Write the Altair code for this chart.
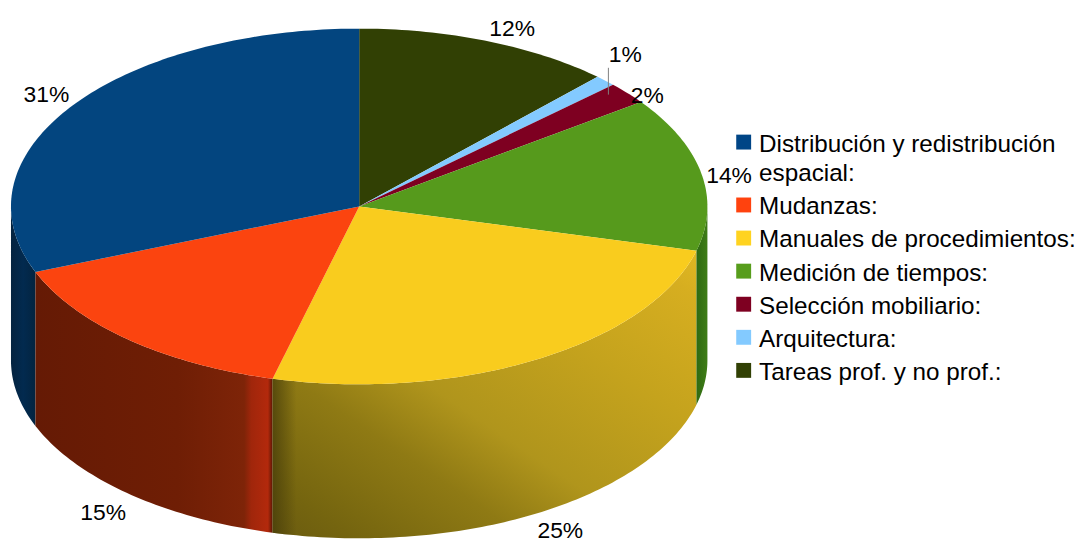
import math
import altair as alt
import pandas as pd

# ---- values (clockwise from 12 o'clock)
categories = ["Tareas prof. y no prof.:", "Arquitectura:", "Selección mobiliario:",
              "Medición de tiempos:", "Manuales de procedimientos:", "Mudanzas:",
              "Distribución y redistribución espacial:"]
shares = [12, 1, 2, 14, 25, 15, 31]
labels = ["12%", "1%", "2%", "14%", "25%", "15%", "31%"]

legend_order = ["Distribución y redistribución espacial:", "Mudanzas:",
                "Manuales de procedimientos:", "Medición de tiempos:",
                "Selección mobiliario:", "Arquitectura:", "Tareas prof. y no prof.:"]
legend_lines = [["Distribución y redistribución", "espacial:"], ["Mudanzas:"],
                ["Manuales de procedimientos:"], ["Medición de tiempos:"],
                ["Selección mobiliario:"], ["Arquitectura:"], ["Tareas prof. y no prof.:"]]
legend_colors = ["#004586", "#ff420e", "#ffd320", "#579d1c", "#7e0021", "#83caff", "#314004"]
top_colors = ["#03457f", "#fb440f", "#f9cc1e", "#569a1c", "#7e0021", "#83caff", "#314004"]

# ---- layout of the tilted pie, in page pixels
CX, CY, RX, RY, DEPTH = 361.5, 206.0, 350.5, 179.0, 155.0
FONT = "Liberation Sans"
PCT_SIZE = 23
LEGEND_SIZE = 24.4
SWATCH_X, TEXT_X = 748.5, 764
FIRST_BASE, WRAP_GAP, ROW_GAP = 150.7, 30.0, 33.3
# label offset from the rim point at each slice's middle angle
nudges = {"12%": (25, -12), "1%": (20, -26), "2%": (20, 3), "14%": (28, 3),
          "25%": (24, 18), "15%": (-26, 19), "31%": (-25, -12)}
# wall shading: colour stops and direction
H = dict(x1=0, y1=0, x2=1, y2=0)
D = dict(x1=0, y1=1, x2=1, y2=0)
walls = {
    "Distribución y redistribución espacial:": (H, [(0, "#04233f"), (0.5, "#022a4f"), (1, "#032440")]),
    "Mudanzas:": (H, [(0, "#651a05"), (0.6, "#6f1e05"), (0.88, "#7e2408"), (0.91, "#a0260b"),
                      (0.98, "#b3290c"), (1, "#5a1605")]),
    "Manuales de procedimientos:": (D, [(0, "#6a5b10"), (0.1, "#75650f"), (0.3, "#8f7a14"),
                                        (0.45, "#b0951c"), (0.7, "#c5a31d"), (0.92, "#d6ae20"),
                                        (1, "#e0b822")]),
    "Medición de tiempos:": (H, [(0, "#2f6a12"), (1, "#3f7d17")]),
}


def rim(deg):
    a = math.radians(deg)
    return CX + RX * math.sin(a), CY - RY * math.cos(a)


top_rows, wall_rows, label_rows = [], [], []
start = 0.0
total = sum(shares)
for name, share, text in zip(categories, shares, labels):
    a0 = start / total * 360
    a1 = (start + share) / total * 360
    steps = max(4, int(a1 - a0))
    arc = [a0 + (a1 - a0) * k / steps for k in range(steps + 1)]
    pts = [(CX, CY)] + [rim(d) for d in arc] + [(CX, CY)]
    for i, (x, y) in enumerate(pts):
        top_rows.append({"name": name, "i": i, "x": x, "y": y})
    # the visible part of the wall lies between 90 and 270 degrees
    w0, w1 = max(a0, 90.0), min(a1, 270.0)
    if w1 > w0:
        n = max(4, int(w1 - w0))
        for k in range(n + 1):
            x, y = rim(w0 + (w1 - w0) * k / n)
            wall_rows.append({"name": name, "x": x, "y": y, "y2": y + DEPTH})
    mid = (a0 + a1) / 2
    x, y = rim(mid)
    if 90 < mid < 270:
        y += DEPTH
    dx, dy = nudges[text]
    label_rows.append({"label": text, "x": x + dx, "y": y + dy})
    start += share

tops = pd.DataFrame(top_rows)
wall_df = pd.DataFrame(wall_rows)
lab_df = pd.DataFrame(label_rows)

# legend rows
swatch_rows, text_rows = [], []
base = FIRST_BASE
for name, lines in zip(legend_order, legend_lines):
    swatch_rows.append({"name": name, "x": SWATCH_X, "y": base - 9.5})
    for j, line in enumerate(lines):
        if j:
            base += WRAP_GAP
        text_rows.append({"text": line, "x": TEXT_X, "y": base})
    base += ROW_GAP
swatches = pd.DataFrame(swatch_rows)
legend_text = pd.DataFrame(text_rows)

x_scale = alt.Scale(domain=[8, 1076], range=[0, 1068], nice=False, zero=False, padding=0)
y_scale = alt.Scale(domain=[8, 534], range=[0, 526], nice=False, zero=False, padding=0)
X = alt.X("x:Q", scale=x_scale, axis=None)
Y = alt.Y("y:Q", scale=y_scale, axis=None)

layers = []
for name, (direction, stops) in walls.items():
    grad = alt.LinearGradient(
        gradient="linear", **direction,
        stops=[alt.GradientStop(offset=o, color=c) for o, c in stops],
    )
    layers.append(
        alt.Chart(wall_df[wall_df.name == name])
        .mark_area(fill=grad, line=False, interpolate="linear")
        .encode(x=X, y=Y, y2="y2:Q")
    )

# soft dark seam on the left of the yellow wall
seam = wall_df[(wall_df.name == "Manuales de procedimientos:") & (wall_df.x < 300)]
layers.append(
    alt.Chart(seam)
    .mark_area(
        fill=alt.LinearGradient(
            gradient="linear", **H,
            stops=[alt.GradientStop(offset=0, color="rgba(70,60,10,0.75)"),
                   alt.GradientStop(offset=1, color="rgba(70,60,10,0)")],
        ),
        line=False,
    )
    .encode(x=X, y=Y, y2="y2:Q")
)

layers.append(
    alt.Chart(tops)
    .mark_line(strokeWidth=0, interpolate="linear")
    .encode(
        x=X, y=Y, order="i:Q", detail="name:N",
        fill=alt.Fill("name:N", scale=alt.Scale(domain=legend_order, range=top_colors), legend=None),
    )
)

layers.append(
    alt.Chart(lab_df)
    .mark_text(font=FONT, fontSize=PCT_SIZE, color="#000000", align="center", baseline="middle")
    .encode(x=X, y=Y, text="label:N")
)

lead = lab_df[lab_df.label == "1%"].assign(y=lambda d: d.y + 13, y2=lambda d: d.y + 27, x=lambda d: d.x - 17)
layers.append(
    alt.Chart(lead).mark_rule(color="#808080", strokeWidth=1).encode(x=X, y=Y, y2="y2:Q")
)

layers.append(
    alt.Chart(swatches)
    .mark_square(size=225, opacity=1, strokeWidth=0)
    .encode(
        x=X, y=Y,
        color=alt.Color("name:N", scale=alt.Scale(domain=legend_order, range=legend_colors), legend=None),
    )
)
layers.append(
    alt.Chart(legend_text)
    .mark_text(font=FONT, fontSize=LEGEND_SIZE, color="#000000", align="left", baseline="alphabetic")
    .encode(x=X, y=Y, text="text:N")
)

chart = (
    alt.layer(*layers)
    .resolve_scale(color="independent", fill="independent")
    .properties(width=1068, height=526, padding=0, background="#ffffff")
    .configure_view(stroke=None)
)
chart.save("out.html", embed_options={"renderer": "svg", "actions": False})
